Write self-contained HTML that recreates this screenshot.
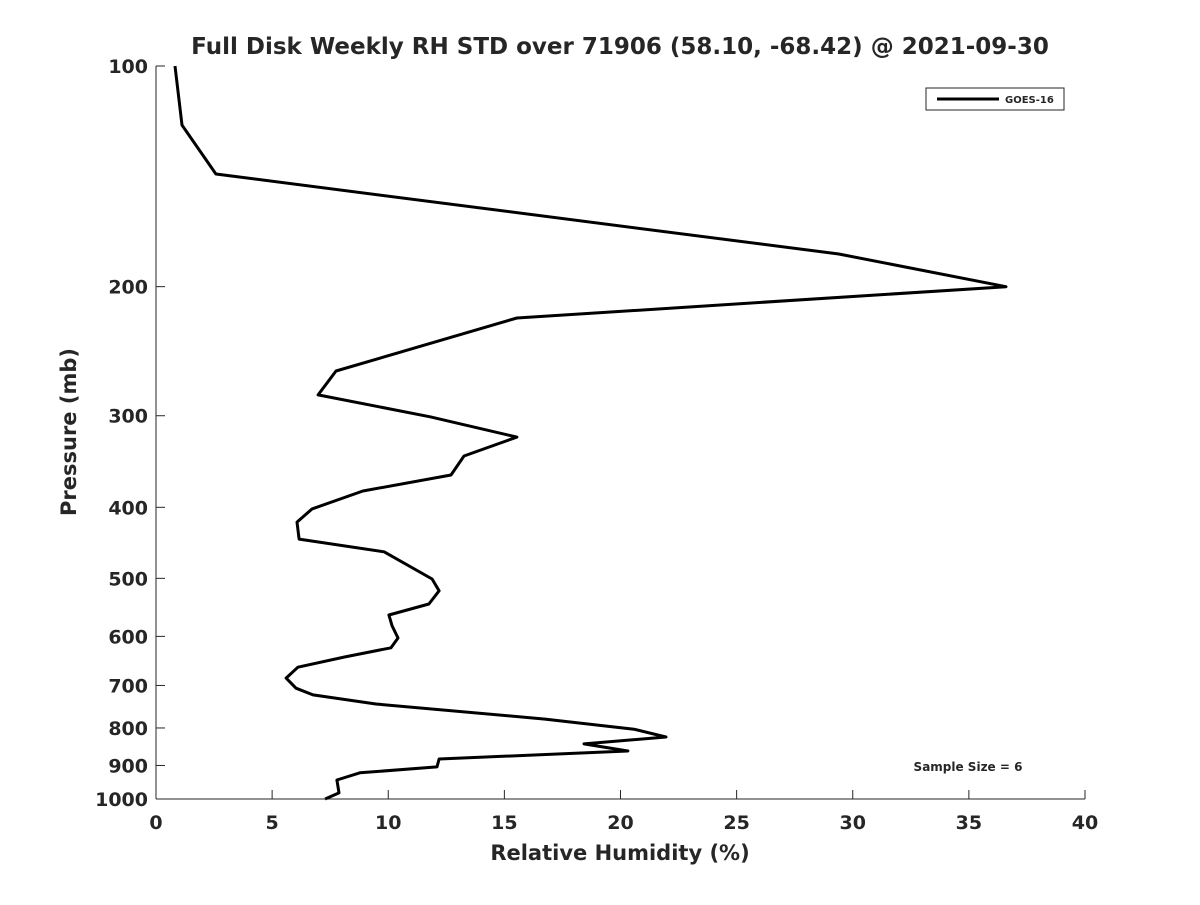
<!DOCTYPE html>
<html><head><meta charset="utf-8"><style>
body{margin:0;background:#fff;font-family:"Liberation Sans",sans-serif}
text{font-family:"DejaVu Sans","Liberation Sans",sans-serif;font-weight:bold;fill:#262626}
</style></head><body>
<svg id="chart" width="1200" height="900" viewBox="0 0 1200 900" xmlns="http://www.w3.org/2000/svg">
<rect width="1200" height="900" fill="#fff"/>
<text x="620" y="54" text-anchor="middle" font-size="23" fill="#000">Full Disk Weekly RH STD over 71906 (58.10, -68.42) @ 2021-09-30</text>
<g id="axes"></g>
<text x="620" y="860" text-anchor="middle" font-size="21">Relative Humidity (%)</text>
<text transform="translate(76,432) rotate(-90)" text-anchor="middle" font-size="21">Pressure (mb)</text>
<g>
<rect x="926" y="88" width="138" height="22" fill="#fff" stroke="#262626" stroke-width="1"/>
<line x1="937" y1="99" x2="999" y2="99" stroke="#000" stroke-width="3"/>
<text x="1005" y="103" font-size="10" fill="#000">GOES-16</text>
</g>
<text x="968" y="771" text-anchor="middle" font-size="12" fill="#000">Sample Size = 6</text>
</svg>
<script>
const rhValues=[0.82,1.12,2.58,29.4,36.6,15.54,7.75,6.98,11.8,15.54,13.26,12.7,8.91,6.72,6.07,6.16,9.82,11.89,12.19,11.75,10.03,10.16,10.42,10.12,8.14,6.11,5.6,6.03,6.76,9.47,16.75,20.58,21.96,18.43,20.32,12.19,12.1,8.78,7.79,7.88,7.28];
const pressures=[100,120.4,140.4,180.5,200,220.7,260.7,281,301,320.8,340.5,361.4,380,402,419,442,460,501,520,542,561,580,603,622,640,661,684,706,721,742,778,803,823,841,860,882,904,921,942,981,1000];
const xTicks=[0,5,10,15,20,25,30,35,40];
const yTicks=[100,200,300,400,500,600,700,800,900,1000];
const NS="http://www.w3.org/2000/svg";
const L=156,R=1085,T=66,B=799;
function xs(v){return L+(v-0)/40*(R-L);}
function ys(p){return T+(Math.log10(p)-2)*(B-T);}
const svg=document.getElementById('chart');
const ax=document.getElementById('axes');
function mk(t,a,parent){const e=document.createElementNS(NS,t);for(const k in a)e.setAttribute(k,a[k]);(parent||ax).appendChild(e);return e;}
const xl=mk('line',{x1:L,y1:B,x2:R,y2:B,stroke:'#262626','stroke-width':1});


const yl=mk('line',{x1:L,y1:T,x2:L,y2:B,stroke:'#262626','stroke-width':1});


xTicks.forEach(v=>{
 const x=xs(v);
 mk('line',{x1:x,y1:B,x2:x,y2:B-9,stroke:'#262626'});
 const t=mk('text',{x:x,y:B+30,'text-anchor':'middle','font-size':19});
 t.textContent=v;
 
 
});
yTicks.forEach(p=>{
 const y=ys(p);
 mk('line',{x1:L,y1:y,x2:L+9,y2:y,stroke:'#262626'});
 const t=mk('text',{x:L-8,y:y+7,'text-anchor':'end','font-size':19});
 t.textContent=p;
 
 
});
const pts=rhValues.map((v,i)=>xs(v).toFixed(1)+','+ys(pressures[i]).toFixed(1)).join(' ');
const line=mk('polyline',{points:pts,fill:'none',stroke:'#000','stroke-width':3,'stroke-linejoin':'round'});


</script>
</body></html>
